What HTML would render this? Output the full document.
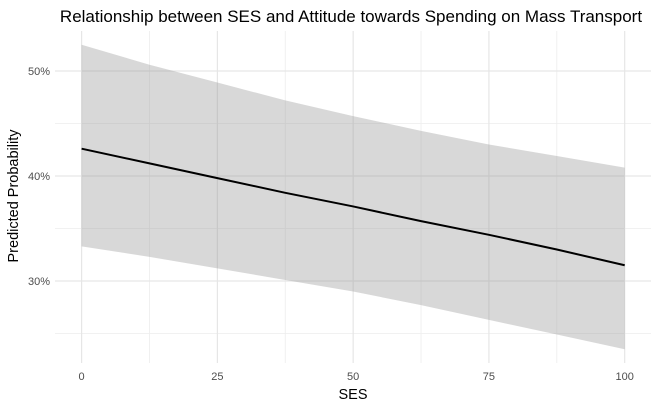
<!DOCTYPE html>
<html><head><meta charset="utf-8"><style>
body{margin:0;background:#fff;}
svg{display:block;font-family:"Liberation Sans",Arial,sans-serif;}
</style></head><body>
<svg id="chart" width="659" height="407">
<text x="351" y="22" text-anchor="middle" font-size="17" fill="#000">Relationship between SES and Attitude towards Spending on Mass Transport</text>
<g id="grid"></g>
<g id="plot"></g>
<g id="axes"></g>
<text x="353" y="399" text-anchor="middle" font-size="14.5" fill="#000">SES</text>
<text transform="translate(18,196) rotate(-90)" text-anchor="middle" font-size="14.5" fill="#000">Predicted Probability</text>
</svg>
<script>
const ses = [0, 12.5, 25, 37.5, 50, 62.5, 75, 87.5, 100];
const fit = [42.6, 41.2, 39.8, 38.4, 37.1, 35.7, 34.4, 33.0, 31.5];
const upper = [52.5, 50.6, 48.9, 47.2, 45.7, 44.3, 43.0, 41.9, 40.8];
const lower = [33.3, 32.3, 31.2, 30.1, 29.0, 27.7, 26.3, 24.9, 23.5];
const xTicks = [0, 25, 50, 75, 100];
const xMinor = [12.5, 37.5, 62.5, 87.5];
const yTicks = [30, 40, 50];
const yTickLabels = ["30%", "40%", "50%"];
const yMinor = [25, 35, 45];

const X0 = 55, X1 = 651, Y0 = 31, Y1 = 363;
const sx = v => 81.6 + v * (624.7 - 81.6) / 100;
const sy = v => 176 - (v - 40) * 10.5;
const NS = "http://www.w3.org/2000/svg";
function mk(tag, attrs, parent){const e=document.createElementNS(NS,tag);for(const k in attrs)e.setAttribute(k,attrs[k]);parent.appendChild(e);return e;}
const grid=document.getElementById('grid'), plot=document.getElementById('plot'), axes=document.getElementById('axes');
yMinor.forEach(v=>{const l=mk('line',{x1:X0,x2:X1,y1:sy(v),y2:sy(v),stroke:'#ededed','stroke-width':0.8},grid);

});
xMinor.forEach(v=>{const l=mk('line',{x1:sx(v),x2:sx(v),y1:Y0,y2:Y1,stroke:'#ededed','stroke-width':0.8},grid);

});
yTicks.forEach((v,i)=>{const l=mk('line',{x1:X0,x2:X1,y1:sy(v),y2:sy(v),stroke:'#e6e6e6','stroke-width':1.2},grid);


const t=mk('text',{x:50,y:sy(v)+4,'text-anchor':'end','font-size':11,fill:'#4d4d4d'},axes);t.textContent=yTickLabels[i];

});
xTicks.forEach(v=>{const l=mk('line',{x1:sx(v),x2:sx(v),y1:Y0,y2:Y1,stroke:'#e6e6e6','stroke-width':1.2},grid);


const t=mk('text',{x:sx(v),y:380,'text-anchor':'middle','font-size':11,fill:'#4d4d4d'},axes);t.textContent=String(v);

});
let d='M'+ses.map((s,i)=>sx(s)+','+sy(upper[i])).join('L');
for(let i=ses.length-1;i>=0;i--)d+='L'+sx(ses[i])+','+sy(lower[i]);
const rib=mk('path',{d:d+'Z',fill:'#999','fill-opacity':0.38},plot);


const ln=mk('polyline',{points:ses.map((s,i)=>sx(s)+','+sy(fit[i])).join(' '),fill:'none',stroke:'#000','stroke-width':2},plot);


</script>
</body></html>
